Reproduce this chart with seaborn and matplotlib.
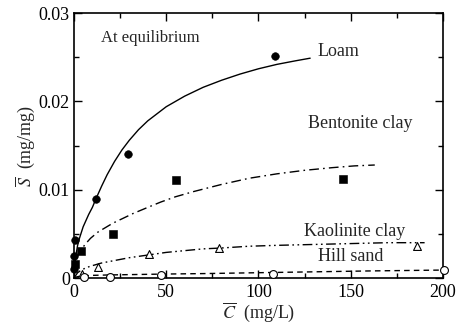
import numpy as np
import pandas as pd
import matplotlib
matplotlib.use("Agg")
import matplotlib.pyplot as plt
import seaborn as sns
from matplotlib.ticker import MultipleLocator

loam_c = [0.0, 0.0, 0.5, 12.1, 29.1, 109.0]
loam_s = [0.0010, 0.0025, 0.0043, 0.0090, 0.0141, 0.0251]
bent_c = [0.5, 4.0, 21.0, 55.1, 146.0]
bent_s = [0.0016, 0.0031, 0.0050, 0.0111, 0.0112]
kaol_c = [4.5, 13.3, 40.5, 78.8, 186.0]
kaol_s = [0.0004, 0.0012, 0.0027, 0.0034, 0.0036]
hill_c = [5.5, 19.5, 47.0, 108.0, 200.5]
hill_s = [0.0001, 0.0001, 0.0003, 0.0005, 0.0009]

# fitted isotherm curves
loam_fit_c = [0, 0.5, 1, 2, 3, 5, 8, 10, 12, 15, 18, 22, 26, 30, 35, 40, 45,
              50, 60, 70, 80, 90, 100, 110, 120, 128]
loam_fit_s = [0, 0.0015, 0.0025, 0.0037, 0.0045, 0.0058, 0.0072, 0.0080,
              0.0090, 0.0104, 0.0117, 0.0132, 0.0145, 0.0156, 0.0168, 0.0178,
              0.0186, 0.0194, 0.0206, 0.0216, 0.0224, 0.0231, 0.0237, 0.0242,
              0.0246, 0.0249]
bent_fit_c = [0, 0.5, 1, 2, 4, 6, 9, 13, 17, 21, 26, 32, 40, 47, 55, 65, 80,
              95, 110, 125, 140, 152, 163]
bent_fit_s = [0, 0.0012, 0.0018, 0.0025, 0.0032, 0.0038, 0.0045, 0.0052,
              0.0057, 0.0062, 0.0067, 0.0073, 0.0080, 0.0086, 0.0092, 0.0098,
              0.0106, 0.0113, 0.0118, 0.0122, 0.0125, 0.0127, 0.0128]
kaol_fit_c = [0, 1, 2, 4, 7, 10, 15, 20, 30, 40, 50, 60, 70, 80, 95, 110,
              130, 150, 170, 190]
kaol_fit_s = [0, 0.0003, 0.0006, 0.0009, 0.0012, 0.0014, 0.0017, 0.0019,
              0.0023, 0.0026, 0.0029, 0.0031, 0.0033, 0.0034, 0.0036, 0.0037,
              0.0038, 0.0039, 0.0040, 0.0040]
hill_fit_c = [0, 1, 3, 6, 10, 20, 35, 50, 70, 100, 130, 160, 200]
hill_fit_s = [0, 0.0001, 0.0002, 0.00025, 0.0003, 0.00035, 0.0004, 0.00045,
              0.0005, 0.0006, 0.0007, 0.0008, 0.0009]

sns.set_style("ticks")
plt.rcParams["font.family"] = ["Liberation Serif", "DejaVu Serif"]
plt.rcParams["mathtext.fontset"] = "stix"

fig = plt.figure(figsize=(4.62, 3.29), dpi=100)
ax = fig.add_axes([0.160, 0.155, 0.799, 0.805])

sns.lineplot(x=loam_fit_c, y=loam_fit_s, ax=ax, color="black", lw=1.0)
sns.lineplot(x=bent_fit_c, y=bent_fit_s, ax=ax, color="black", lw=1.0,
             linestyle=(0, (7, 3, 1.2, 3)))
sns.lineplot(x=kaol_fit_c, y=kaol_fit_s, ax=ax, color="black", lw=1.0,
             linestyle=(0, (7, 2.5, 1.2, 2.5, 1.2, 2.5)))
sns.lineplot(x=hill_fit_c, y=hill_fit_s, ax=ax, color="black", lw=1.0,
             linestyle=(0, (4, 3)))

sns.scatterplot(x=loam_c, y=loam_s, ax=ax, marker="o", s=30,
                color="black", edgecolor="black", zorder=5, clip_on=False)
sns.scatterplot(x=bent_c, y=bent_s, ax=ax, marker="s", s=28,
                color="black", edgecolor="black", zorder=5, clip_on=False)
sns.scatterplot(x=kaol_c, y=kaol_s, ax=ax, marker="^", s=32,
                facecolor="white", edgecolor="black", linewidth=0.8, zorder=5,
                clip_on=False)
sns.scatterplot(x=hill_c, y=hill_s, ax=ax, marker="o", s=32,
                facecolor="white", edgecolor="black", linewidth=0.8, zorder=5,
                clip_on=False)

ax.set_xlim(0, 200)
ax.set_ylim(0, 0.03)
ax.xaxis.set_major_locator(MultipleLocator(50))
ax.xaxis.set_minor_locator(MultipleLocator(25))
ax.yaxis.set_minor_locator(MultipleLocator(0.005))
ax.set_yticks([0, 0.01, 0.02, 0.03])
ax.set_yticklabels(["0", "0.01", "0.02", "0.03"])
ax.tick_params(which="both", direction="in", top=True, right=True,
               labelsize=13, colors="black", width=1.0)
ax.tick_params(which="major", length=6, pad=4)
ax.tick_params(which="minor", length=3.5)
ax.tick_params(axis="y", pad=3)
for sp in ax.spines.values():
    sp.set_linewidth(1.2)
    sp.set_color("black")

ax.set_xlabel(r"$\overline{C}$  (mg/L)", fontsize=13, labelpad=0)
ax.set_ylabel(r"$\overline{S}$  (mg/mg)", fontsize=13, labelpad=1)

ax.text(14.5, 0.0272, "At equilibrium", fontsize=12, va="center")
ax.text(132, 0.0257, "Loam", fontsize=13, va="center")
ax.text(127, 0.0175, "Bentonite clay", fontsize=13, va="center")
ax.text(124.5, 0.0053, "Kaolinite clay", fontsize=13, va="center")
ax.text(132, 0.0024, "Hill sand", fontsize=13, va="center")

fig.savefig("out.png", dpi=100)
